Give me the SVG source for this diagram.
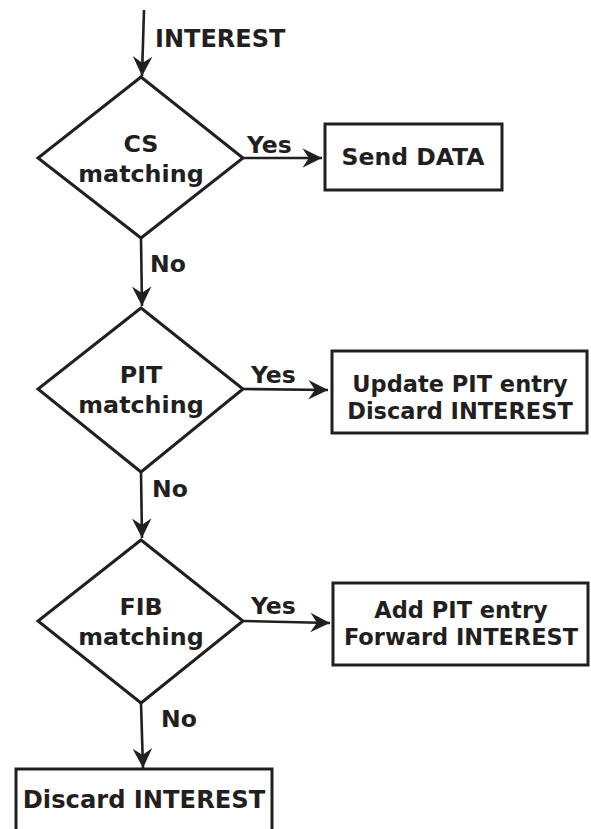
<svg xmlns="http://www.w3.org/2000/svg" width="591" height="829" viewBox="0 0 591 829">
<defs>
<style>
.shape{fill:#fff;stroke:#231f20;stroke-width:3;stroke-linejoin:miter}
.conn{fill:none;stroke:#231f20;stroke-width:2.6}
text{font-family:"DejaVu Sans","Liberation Sans",sans-serif;font-weight:bold;fill:#231f20}
.c{text-anchor:middle}
</style>
<marker id="arr" markerUnits="userSpaceOnUse" markerWidth="24" markerHeight="24" viewBox="-20 -11 22 22" refX="0" refY="0" orient="auto">
<path d="M0,0 L-18,-9 L-12,0 L-18,9 Z" fill="#231f20"/>
</marker>
</defs>
<rect width="591" height="829" fill="#fff"/>
<g id="connectors">
<line class="conn" x1="144" y1="10" x2="142" y2="76" marker-end="url(#arr)"/>
<line class="conn" x1="243" y1="158" x2="322" y2="158" marker-end="url(#arr)"/>
<line class="conn" x1="141" y1="238" x2="142" y2="306" marker-end="url(#arr)"/>
<line class="conn" x1="243" y1="389" x2="328" y2="390" marker-end="url(#arr)"/>
<line class="conn" x1="141" y1="472" x2="142" y2="538" marker-end="url(#arr)"/>
<line class="conn" x1="243" y1="621" x2="330" y2="623" marker-end="url(#arr)"/>
<line class="conn" x1="141" y1="703" x2="143" y2="768" marker-end="url(#arr)"/>
<text x="155" y="47" font-size="24">INTEREST</text>
<text x="247" y="153" font-size="23.5">Yes</text>
<text x="150" y="272" font-size="23.5">No</text>
<text x="251" y="383" font-size="23.5">Yes</text>
<text x="152" y="497" font-size="23.5">No</text>
<text x="251" y="614" font-size="23.5">Yes</text>
<text x="161" y="727" font-size="23.5">No</text>
</g>
<g id="cs">
<polygon class="shape" points="141,77 243,158 141,238 38,158"/>
<text class="c" x="141" y="152" font-size="23.8">CS</text>
<text class="c" x="141" y="182" font-size="23.8">matching</text>
</g>
<g id="send-data">
<rect class="shape" x="325" y="124" width="177" height="66"/>
<text class="c" x="413" y="165" font-size="23.5">Send DATA</text>
</g>
<g id="pit">
<polygon class="shape" points="141,308 243,389 141,472 38,389"/>
<text class="c" x="141" y="383" font-size="23.8">PIT</text>
<text class="c" x="141" y="413" font-size="23.8">matching</text>
</g>
<g id="update-pit">
<rect class="shape" x="332" y="351" width="255" height="82"/>
<text class="c" x="460" y="392" font-size="22.5">Update PIT entry</text>
<text class="c" x="460" y="419" font-size="22.5">Discard INTEREST</text>
</g>
<g id="fib">
<polygon class="shape" points="141,540 243,621 141,703 38,621"/>
<text class="c" x="141" y="615" font-size="23.8">FIB</text>
<text class="c" x="141" y="645" font-size="23.8">matching</text>
</g>
<g id="add-pit">
<rect class="shape" x="333" y="583" width="255" height="82"/>
<text class="c" x="461" y="618" font-size="22.5">Add PIT entry</text>
<text class="c" x="461" y="645" font-size="22.5">Forward INTEREST</text>
</g>
<g id="discard">
<rect class="shape" x="16" y="769" width="256" height="80"/>
<text class="c" x="144" y="808" font-size="24.2">Discard INTEREST</text>
</g>
</svg>
